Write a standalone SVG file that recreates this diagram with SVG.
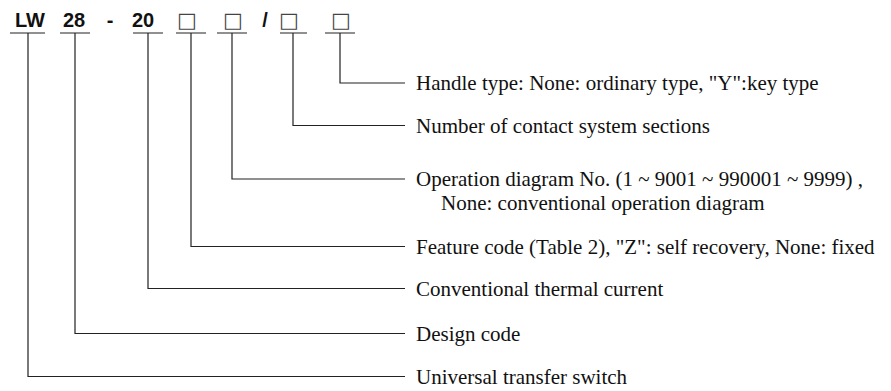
<svg xmlns="http://www.w3.org/2000/svg" width="891" height="391" viewBox="0 0 891 391">
<style>
.code{font-family:"Liberation Sans",Arial,sans-serif;font-size:20px;font-weight:bold;fill:#111;text-anchor:middle}
.box{font-family:"DejaVu Sans",sans-serif;font-size:21px;fill:#444;text-anchor:middle}
.lbl{font-family:"Liberation Serif","Times New Roman",serif;font-size:21px;fill:#111}
.ln{fill:none;stroke:#222;stroke-width:1.2}
</style>
<rect width="891" height="391" fill="#fff"/>
<g id="code">
<text class="code" x="30" y="27">LW</text>
<text class="code" x="74" y="27">28</text>
<text class="code" x="110" y="27">-</text>
<text class="code" x="143" y="27">20</text>
<text class="box" x="187" y="27">□</text>
<text class="box" x="233" y="27">□</text>
<text class="code" x="265" y="27">/</text>
<text class="box" x="289" y="27">□</text>
<text class="box" x="341" y="27">□</text>
</g>
<g id="connectors">
<path class="ln" d="M10 33H45M60 33H90M133 33H163M176 33H206M217 33H247M280 33H307M325 33H355"/>
<path class="ln" d="M340 33V83H405"/>
<path class="ln" d="M293 33V125.5H405"/>
<path class="ln" d="M232 33V179H405"/>
<path class="ln" d="M191 33V246.5H405"/>
<path class="ln" d="M148 33V288.5H405"/>
<path class="ln" d="M75 33V333.5H405"/>
<path class="ln" d="M28 33V376.5H405"/>
</g>
<g id="label-handle"><text class="lbl" x="416" y="90">Handle type: None: ordinary type, "Y":key type</text></g>
<g id="label-sections"><text class="lbl" x="416" y="133">Number of contact system sections</text></g>
<g id="label-operation"><text class="lbl" x="416" y="186">Operation diagram No. (1 ~ 9001 ~ 990001 ~ 9999) ,</text><text class="lbl" x="441" y="210">None: conventional operation diagram</text></g>
<g id="label-feature"><text class="lbl" x="416" y="254">Feature code (Table 2), "Z": self recovery, None: fixed</text></g>
<g id="label-current"><text class="lbl" x="416" y="296">Conventional thermal current</text></g>
<g id="label-design"><text class="lbl" x="416" y="341">Design code</text></g>
<g id="label-switch"><text class="lbl" x="416" y="384">Universal transfer switch</text></g>
</svg>
